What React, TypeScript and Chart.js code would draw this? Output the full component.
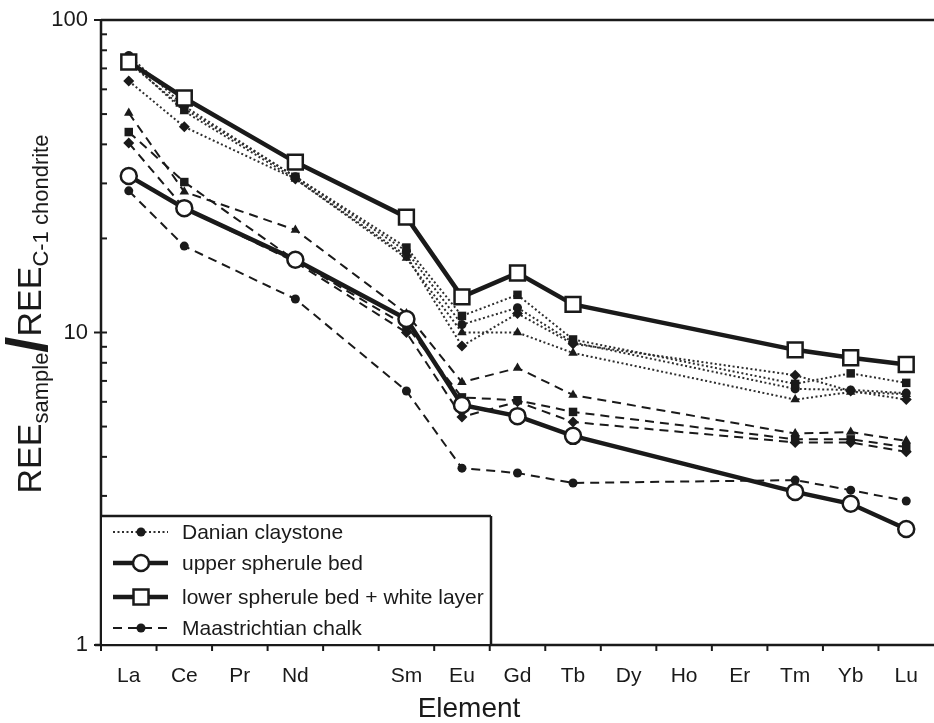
import React, { useEffect, useRef } from "react";
import { Chart, registerables } from "chart.js";

Chart.register(...registerables);

// Categories (Pm has no label)
const ELEMENTS = ["La", "Ce", "Pr", "Nd", "Pm", "Sm", "Eu", "Gd", "Tb", "Dy", "Ho", "Er", "Tm", "Yb", "Lu"];
const TICK_LABELS = ["La", "Ce", "Pr", "Nd", "", "Sm", "Eu", "Gd", "Tb", "Dy", "Ho", "Er", "Tm", "Yb", "Lu"];
const Y_MAJOR = [1, 10, 100];
const X_TITLE = "Element";

// Series values (REE sample / REE C-1 chondrite), null = not measured
const lowerSpherule = [73.4, 56.3, null, 35.1, null, 23.4, 13.0, 15.5, 12.3, null, null, null, 8.8, 8.3, 7.9];
const upperSpherule = [31.7, 25.0, null, 17.1, null, 11.05, 5.86, 5.4, 4.67, null, null, null, 3.09, 2.83, 2.35];

const danianCircle = [77, 53, null, 31.5, null, 18.2, 10.6, 12.0, 9.3, null, null, null, 6.6, 6.55, 6.4];
const danianTriangle = [74, 51, null, 31, null, 17.3, 10.0, 10.0, 8.6, null, null, null, 6.1, 6.45, 6.35];
const danianSquare = [73, 52, null, 31.5, null, 18.7, 11.3, 13.2, 9.5, null, null, null, 6.85, 7.4, 6.9];
const danianDiamond = [63.8, 45.5, null, 31, null, 17.6, 9.05, 11.5, 9.2, null, null, null, 7.3, 6.5, 6.1];

const chalkCircle = [28.4, 18.9, null, 12.8, null, 6.5, 3.68, 3.55, 3.3, null, null, null, 3.37, 3.13, 2.89];
const chalkTriangle = [50.4, 28.2, null, 21.3, null, 11.5, 6.93, 7.7, 6.31, null, null, null, 4.75, 4.8, 4.5];
const chalkSquare = [43.8, 30.3, null, 17.0, null, 10.5, 6.2, 6.07, 5.57, null, null, null, 4.55, 4.55, 4.3];
const chalkDiamond = [40.4, 25.0, null, 16.8, null, 10.0, 5.37, 6.0, 5.17, null, null, null, 4.45, 4.45, 4.15];

const LEGEND_ITEMS = ["Danian claystone", "upper spherule bed", "lower spherule bed + white layer", "Maastrichtian chalk"];

const FONT = "'Liberation Sans', Arial, Helvetica, sans-serif";
const INK = "#1a1a1a";
const DOT = "#2e2e2e";

function danian(data: (number | null)[], style: string, radius: number) {
  return {
    data,
    borderColor: DOT,
    borderWidth: 2,
    borderDash: [2, 2.5],
    pointStyle: style,
    pointRadius: radius,
    pointBackgroundColor: INK,
    pointBorderColor: INK,
    pointBorderWidth: 0,
    spanGaps: true,
    fill: false,
    tension: 0,
  };
}

function chalk(data: (number | null)[], style: string, radius: number) {
  return {
    data,
    borderColor: INK,
    borderWidth: 2,
    borderDash: [9, 6],
    pointStyle: style,
    pointRadius: radius,
    pointBackgroundColor: INK,
    pointBorderColor: INK,
    pointBorderWidth: 0,
    spanGaps: true,
    fill: false,
    tension: 0,
  };
}

function line(ctx: CanvasRenderingContext2D, x1: number, y1: number, x2: number, y2: number) {
  ctx.beginPath();
  ctx.moveTo(x1, y1);
  ctx.lineTo(x2, y2);
  ctx.stroke();
}

const framePlugin = {
  id: "frame",
  afterDatasetsDraw(chart: any) {
    const { ctx, chartArea } = chart;
    const { left, top, right, bottom } = chartArea;
    const xs = chart.scales.x;
    const ys = chart.scales.y;
    ctx.save();
    ctx.strokeStyle = INK;
    ctx.lineWidth = 2.5;
    ctx.setLineDash([]);
    // axes and top border
    line(ctx, left, top - 1, left, bottom + 1);
    line(ctx, left, top, right, top);
    line(ctx, left - 6, bottom, right, bottom);
    // y ticks
    ctx.lineWidth = 2;
    for (const v of Y_MAJOR) {
      const py = ys.getPixelForValue(v);
      line(ctx, left - 7, py, left + 6, py);
    }
    for (const d of [1, 10]) {
      for (let m = 2; m <= 9; m++) {
        const py = ys.getPixelForValue(d * m);
        line(ctx, left, py, left + 6, py);
      }
    }
    // x ticks at category boundaries
    const half = (xs.getPixelForValue(1) - xs.getPixelForValue(0)) / 2;
    for (let i = 0; i < ELEMENTS.length; i++) {
      const px = xs.getPixelForValue(i) - half;
      line(ctx, px, bottom, px, bottom + 6);
    }

    // x title (centred on the figure, as in the original)
    ctx.fillStyle = INK;
    ctx.font = `28px ${FONT}`;
    ctx.textAlign = "center";
    ctx.textBaseline = "middle";
    ctx.fillText(X_TITLE, 469, 709);

    // legend
    const lx = left;
    const lw = 390;
    const lh = 129;
    const ly = bottom - lh;
    ctx.fillStyle = "#ffffff";
    ctx.fillRect(lx + 1, ly, lw, lh - 1);
    ctx.lineWidth = 2.5;
    ctx.strokeStyle = INK;
    line(ctx, lx, ly, lx + lw, ly);
    line(ctx, lx + lw, ly, lx + lw, bottom);
    const rows = [ly + 16, ly + 47, ly + 81, ly + 112];
    const sx1 = lx + 12;
    const sx2 = lx + 67;
    const mx = lx + 40;
    // Danian
    ctx.strokeStyle = DOT;
    ctx.lineWidth = 2;
    ctx.setLineDash([2, 2.5]);
    line(ctx, sx1, rows[0], sx2, rows[0]);
    ctx.setLineDash([]);
    ctx.fillStyle = INK;
    ctx.beginPath();
    ctx.arc(mx, rows[0], 4.5, 0, Math.PI * 2);
    ctx.fill();
    // upper spherule
    ctx.strokeStyle = INK;
    ctx.lineWidth = 4.5;
    line(ctx, sx1, rows[1], sx2, rows[1]);
    ctx.fillStyle = "#ffffff";
    ctx.lineWidth = 2.5;
    ctx.beginPath();
    ctx.arc(mx, rows[1], 8, 0, Math.PI * 2);
    ctx.fill();
    ctx.stroke();
    // lower spherule
    ctx.lineWidth = 4.5;
    line(ctx, sx1, rows[2], sx2, rows[2]);
    ctx.lineWidth = 2.5;
    ctx.fillRect(mx - 7.5, rows[2] - 7.5, 15, 15);
    ctx.strokeRect(mx - 7.5, rows[2] - 7.5, 15, 15);
    // Maastrichtian
    ctx.lineWidth = 2;
    ctx.setLineDash([9, 6]);
    line(ctx, sx1, rows[3], sx2, rows[3]);
    ctx.setLineDash([]);
    ctx.fillStyle = INK;
    ctx.beginPath();
    ctx.arc(mx, rows[3], 4.5, 0, Math.PI * 2);
    ctx.fill();
    // legend text
    ctx.fillStyle = INK;
    ctx.font = `21px ${FONT}`;
    ctx.textBaseline = "middle";
    ctx.textAlign = "left";
    LEGEND_ITEMS.forEach((t, i) => ctx.fillText(t, lx + 81, rows[i] + 1));

    // y title with subscripts
    const big = `34px ${FONT}`;
    const small = `22px ${FONT}`;
    const slash = `bold 58px ${FONT}`;
    const parts = [
      { t: "REE", f: big, dy: 0 },
      { t: "sample", f: small, dy: 7 },
      { t: "/", f: slash, dy: 6 },
      { t: "REE", f: big, dy: 0 },
      { t: "C-1 chondrite", f: small, dy: 7 },
    ];
    let total = 0;
    const widths = parts.map((p) => {
      ctx.font = p.f;
      const w = ctx.measureText(p.t).width;
      total += w;
      return w;
    });
    ctx.save();
    ctx.translate(29, 314);
    ctx.rotate(-Math.PI / 2);
    ctx.textBaseline = "alphabetic";
    let cx = -total / 2;
    parts.forEach((p, i) => {
      ctx.font = p.f;
      ctx.fillText(p.t, cx, 12 + p.dy);
      cx += widths[i];
    });
    ctx.restore();
    ctx.restore();
  },
};

export default function App() {
  const ref = useRef<HTMLCanvasElement | null>(null);

  useEffect(() => {
    if (!ref.current) return;
    const chart = new Chart(ref.current, {
      type: "line",
      data: {
        labels: TICK_LABELS,
        datasets: [
          {
            label: LEGEND_ITEMS[2],
            data: lowerSpherule,
            borderColor: INK,
            borderWidth: 4.5,
            pointStyle: "rect",
            pointRadius: 10.5,
            pointBackgroundColor: "#ffffff",
            pointBorderColor: INK,
            pointBorderWidth: 2.5,
            spanGaps: true,
            fill: false,
            tension: 0,
          },
          {
            label: LEGEND_ITEMS[1],
            data: upperSpherule,
            borderColor: INK,
            borderWidth: 4.5,
            pointStyle: "circle",
            pointRadius: 8,
            pointBackgroundColor: "#ffffff",
            pointBorderColor: INK,
            pointBorderWidth: 2.5,
            spanGaps: true,
            fill: false,
            tension: 0,
          },
          danian(danianCircle, "circle", 4.5),
          danian(danianTriangle, "triangle", 5.5),
          danian(danianSquare, "rect", 6),
          danian(danianDiamond, "rectRot", 5.5),
          chalk(chalkCircle, "circle", 4.5),
          chalk(chalkTriangle, "triangle", 5.5),
          chalk(chalkSquare, "rect", 6),
          chalk(chalkDiamond, "rectRot", 5.5),
        ] as any,
      },
      options: {
        responsive: false,
        animation: false,
        layout: { autoPadding: false, padding: { top: 20, right: 0, left: 0, bottom: 0 } },
        plugins: { legend: { display: false }, tooltip: { enabled: false }, title: { display: false } },
        scales: {
          x: {
            type: "category",
            offset: true,
            grid: { display: false, drawTicks: false },
            border: { display: false },
            ticks: {
              color: INK,
              font: { family: FONT, size: 21 },
              padding: 19,
              autoSkip: false,
              maxRotation: 0,
            },
            title: { display: false },
            afterFit: (s: any) => {
              s.height = 78;
              s.paddingLeft = 0;
              s.paddingRight = 0;
            },
          },
          y: {
            type: "logarithmic",
            min: 1,
            max: 100,
            grid: { display: false, drawTicks: false },
            border: { display: false },
            afterBuildTicks: (s: any) => {
              s.ticks = Y_MAJOR.map((v) => ({ value: v }));
            },
            ticks: {
              color: INK,
              font: { family: FONT, size: 22 },
              padding: 13,
              callback: (v: any) => String(v),
            },
            afterFit: (s: any) => {
              s.width = 101;
              s.paddingTop = 0;
              s.paddingBottom = 0;
            },
          },
        },
      },
      plugins: [framePlugin],
    });
    return () => chart.destroy();
  }, []);

  return (
    <div style={{ position: "fixed", left: 0, top: 0, width: 934, height: 723, background: "#fff" }}>
      <canvas ref={ref} width={934} height={723} />
    </div>
  );
}
